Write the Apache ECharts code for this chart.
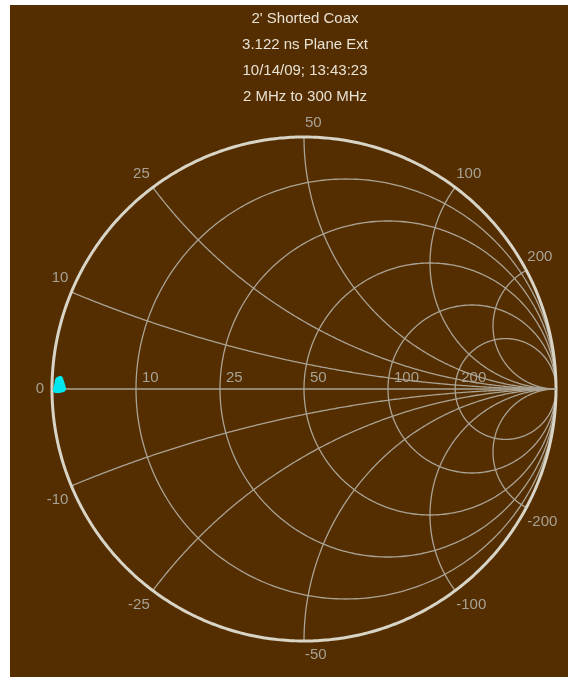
<!DOCTYPE html>
<html>
<head>
<meta charset="utf-8">
<script src="https://cdn.jsdelivr.net/npm/echarts@6/dist/echarts.min.js"></script>
<style>
  html, body { margin: 0; padding: 0; background: #ffffff; }
  #chart { position: absolute; left: 10px; top: 5px; width: 558px; height: 672px; }
</style>
</head>
<body>
<div id="chart"></div>
<script>
// Header lines shown above the Smith chart
const titleLines = ["2' Shorted Coax", "3.122 ns Plane Ext", "10/14/09; 13:43:23", "2 MHz to 300 MHz"];

// Reference impedance (ohms)
const z0 = 50;

// Constant-resistance circles (ohms), labelled along the real axis
const resistanceTicks = [10, 25, 50, 100, 200];

// Constant-reactance arcs (ohms), labelled around the rim
const reactanceTicks = [10, 25, 50, 100, 200, -10, -25, -50, -100, -200];

// Measured trace: series resistance and reactance (ohms) per sweep point
const traceR = [0.40, 0.50, 0.59, 0.79, 1.02, 1.12, 0.71, 0.61];
const traceX = [-0.10, 0.31, 0.92, 1.03, 0.42, 0.00, -0.10, 0.31];

const BG = '#542d00';
const GRID = '#aaa394';
const RIM = '#d8d4c6';
const LABEL = '#a8a294';
const TITLE = '#e8e2d4';
const FONT = '15px "Liberation Sans", Arial, sans-serif';

// impedance (ohms) -> reflection coefficient [re, im]
function toGamma(r, x) {
  const zr = r / z0, zi = x / z0;
  const nr = zr - 1, ni = zi;
  const dr = zr + 1, di = zi;
  const d = dr * dr + di * di;
  return [(nr * dr + ni * di) / d, (ni * dr - nr * di) / d];
}

// point where a reactance arc meets the outer rim
function rimPoint(xOhm) {
  const x = xOhm / z0;
  const s = x * x + 1;
  return [(x * x - 1) / s, 2 * x / s];
}

function circlePoints(api, cx, cy, rad, a0, a1, steps) {
  const pts = [];
  for (let i = 0; i <= steps; i++) {
    const a = a0 + (a1 - a0) * i / steps;
    pts.push(api.coord([cx + rad * Math.cos(a), cy + rad * Math.sin(a)]));
  }
  return pts;
}

const chart = echarts.init(document.getElementById('chart'), null, { renderer: 'canvas' });

const traceData = traceR.map((r, i) => toGamma(r, traceX[i]));

const option = {
  backgroundColor: BG,
  animation: false,
  title: {
    text: titleLines.join('\n'),
    left: 295,
    textAlign: 'center',
    top: 1,
    padding: 0,
    textStyle: {
      color: TITLE,
      fontFamily: '"Liberation Sans", Arial, sans-serif',
      fontSize: 15,
      fontWeight: 'normal',
      lineHeight: 26,
      align: 'center'
    }
  },
  grid: { left: 42, top: 132, width: 504, height: 504 },
  xAxis: { type: 'value', min: -1, max: 1, show: false },
  yAxis: { type: 'value', min: -1, max: 1, show: false },
  series: [
    {
      // constant-resistance circles
      type: 'custom',
      coordinateSystem: 'cartesian2d',
      silent: true,
      clip: false,
      data: resistanceTicks.map(v => [v]),
      renderItem: function (params, api) {
        const r = api.value(0) / z0;
        const c = r / (1 + r), rad = 1 / (1 + r);
        return {
          type: 'polyline',
          shape: { points: circlePoints(api, c, 0, rad, 0, Math.PI * 2, 400) },
          style: { stroke: GRID, fill: null, lineWidth: 1.3 }
        };
      }
    },
    {
      // constant-reactance arcs, clipped at the rim
      type: 'custom',
      coordinateSystem: 'cartesian2d',
      silent: true,
      clip: false,
      data: reactanceTicks.map(v => [v]),
      renderItem: function (params, api) {
        const xv = api.value(0) / z0;
        const ax = Math.abs(xv);
        const sign = xv < 0 ? -1 : 1;
        const s = ax * ax + 1;
        const bx = -2 / s, by = (ax * ax - 1) / (ax * s);
        let end = Math.atan2(by, bx);
        if (end > -Math.PI / 2) end -= Math.PI * 2;
        const rad = 1 / ax;
        const pts = [];
        const steps = 300;
        for (let i = 0; i <= steps; i++) {
          const a = -Math.PI / 2 + (end + Math.PI / 2) * i / steps;
          pts.push(api.coord([1 + rad * Math.cos(a), sign * (rad + rad * Math.sin(a))]));
        }
        return {
          type: 'polyline',
          shape: { points: pts },
          style: { stroke: GRID, fill: null, lineWidth: 1.3 }
        };
      }
    },
    {
      // real axis (zero reactance)
      type: 'line',
      silent: true,
      symbol: 'none',
      data: [[-1, 0], [1, 0]],
      lineStyle: { color: GRID, width: 1.5 }
    },
    {
      // outer rim (zero resistance)
      type: 'custom',
      coordinateSystem: 'cartesian2d',
      silent: true,
      clip: false,
      data: [[0]],
      renderItem: function (params, api) {
        return {
          type: 'polyline',
          shape: { points: circlePoints(api, 0, 0, 1, 0, Math.PI * 2, 600) },
          style: { stroke: RIM, fill: null, lineWidth: 3 }
        };
      }
    },
    {
      // reactance labels around the rim plus the short-circuit "0"
      type: 'custom',
      coordinateSystem: 'cartesian2d',
      silent: true,
      clip: false,
      data: reactanceTicks.map(v => [v]).concat([[0]]),
      renderItem: function (params, api) {
        const v = api.value(0);
        if (v === 0) {
          const p = api.coord([-1, 0]);
          return {
            type: 'text', x: p[0] - 8, y: p[1],
            style: { text: '0', fill: LABEL, font: FONT, align: 'right', verticalAlign: 'middle' }
          };
        }
        const g = rimPoint(v);
        const p = api.coord(g);
        const left = g[0] < -0.05;
        return {
          type: 'text',
          x: p[0] + (left ? -3 : 1),
          y: p[1] + (v > 0 ? -14 : 14),
          style: {
            text: String(v), fill: LABEL, font: FONT,
            align: left ? 'right' : 'left', verticalAlign: 'middle'
          }
        };
      }
    },
    {
      // resistance labels on the real axis
      type: 'custom',
      coordinateSystem: 'cartesian2d',
      silent: true,
      clip: false,
      data: resistanceTicks.map(v => [v]),
      renderItem: function (params, api) {
        const r = api.value(0) / z0;
        const p = api.coord([(r - 1) / (r + 1), 0]);
        return {
          type: 'text', x: p[0] + 6, y: p[1] - 4,
          style: { text: String(api.value(0)), fill: LABEL, font: FONT, align: 'left', verticalAlign: 'bottom' }
        };
      }
    },
    {
      // measured reflection trace
      type: 'line',
      symbol: 'none',
      data: traceData,
      lineStyle: { color: '#00e8ee', width: 6, join: 'round', cap: 'round' },
      z: 10
    }
  ]
};

chart.setOption(option);
</script>
</body>
</html>
